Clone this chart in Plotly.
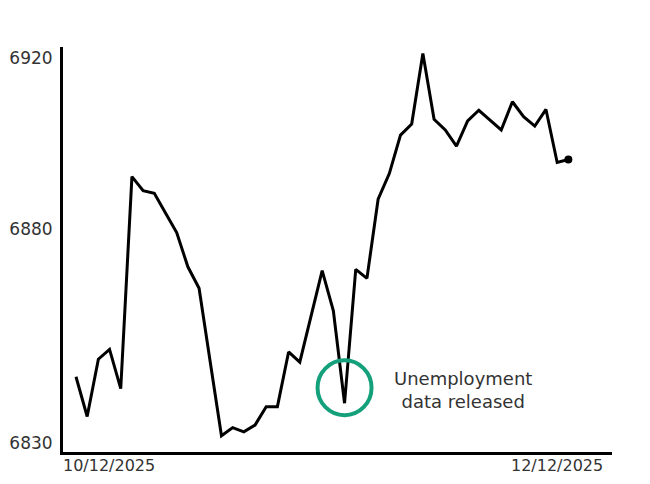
import plotly.graph_objects as go

# Values (index = sample number)
values = [
    6845.5, 6836.2, 6849.6, 6851.9, 6842.7, 6892.3, 6889.0, 6888.4, 6883.8, 6879.2,
    6871.2, 6866.2, 6848.9, 6831.7, 6833.6, 6832.6, 6834.2, 6838.5, 6838.5, 6851.3,
    6848.9, 6859.5, 6870.3, 6860.9, 6839.3, 6870.6, 6868.5, 6887.0, 6893.0, 6902.0,
    6904.6, 6921.1, 6905.7, 6903.2, 6899.4, 6905.3, 6907.8, 6905.5, 6903.2, 6909.8,
    6906.3, 6904.1, 6908.0, 6895.6, 6896.3,
]
x_idx = list(range(len(values)))
y_ticks = [6830, 6880, 6920]
date_labels = ["10/12/2025", "12/12/2025"]
event_index = 24
event_label = "Unemployment<br>data released"

FONT = "DejaVu Sans"
TEXT = "#333333"
GREEN = "#15a07c"

fig = go.Figure()
fig.add_trace(go.Scatter(
    x=x_idx, y=values, mode="lines",
    line=dict(color="black", width=3),
    hoverinfo="skip", showlegend=False,
))
fig.add_trace(go.Scatter(
    x=[x_idx[-1]], y=[values[-1]], mode="markers",
    marker=dict(color="black", size=8),
    hoverinfo="skip", showlegend=False,
))

# circle around the event point (pixel-sized, anchored to the data point)
fig.add_shape(
    type="circle", xref="x", yref="y",
    xsizemode="pixel", ysizemode="pixel",
    xanchor=x_idx[event_index], yanchor=values[event_index],
    x0=-27, x1=27, y0=-12, y1=43,
    line=dict(color=GREEN, width=4),
)

fig.add_annotation(
    x=34.6, y=6842.4, xref="x", yref="y",
    text=event_label, showarrow=False,
    font=dict(family=FONT, size=18, color=TEXT),
    align="center", xanchor="center", yanchor="middle",
)

fig.add_annotation(
    x=0, y=0, xref="paper", yref="paper",
    text=date_labels[0], showarrow=False,
    xanchor="left", yanchor="top", yshift=-2, xshift=-2,
    font=dict(family=FONT, size=16, color=TEXT),
)
fig.add_annotation(
    x=0.988, y=0, xref="paper", yref="paper",
    text=date_labels[1], showarrow=False,
    xanchor="right", yanchor="top", yshift=-2,
    font=dict(family=FONT, size=16, color=TEXT),
)

fig.update_layout(
    width=650, height=484,
    margin=dict(l=55, r=46, t=39, b=40, autoexpand=False),
    paper_bgcolor="white", plot_bgcolor="white",
    showlegend=False,
    font=dict(family=FONT, size=16, color=TEXT),
)
fig.update_xaxes(
    range=[-1.16, 47.9],
    showgrid=False, zeroline=False,
    showline=True, linecolor="black", linewidth=3,
    showticklabels=False, ticks="",
)
fig.update_yaxes(
    range=[6827.9, 6922.6],
    tickvals=y_ticks, ticktext=[str(v) for v in y_ticks],
    showgrid=False, zeroline=False,
    showline=True, linecolor="black", linewidth=3,
    ticks="", ticklabelstandoff=4,
    tickfont=dict(family=FONT, size=17, color=TEXT),
)

fig.write_html("out.html")
